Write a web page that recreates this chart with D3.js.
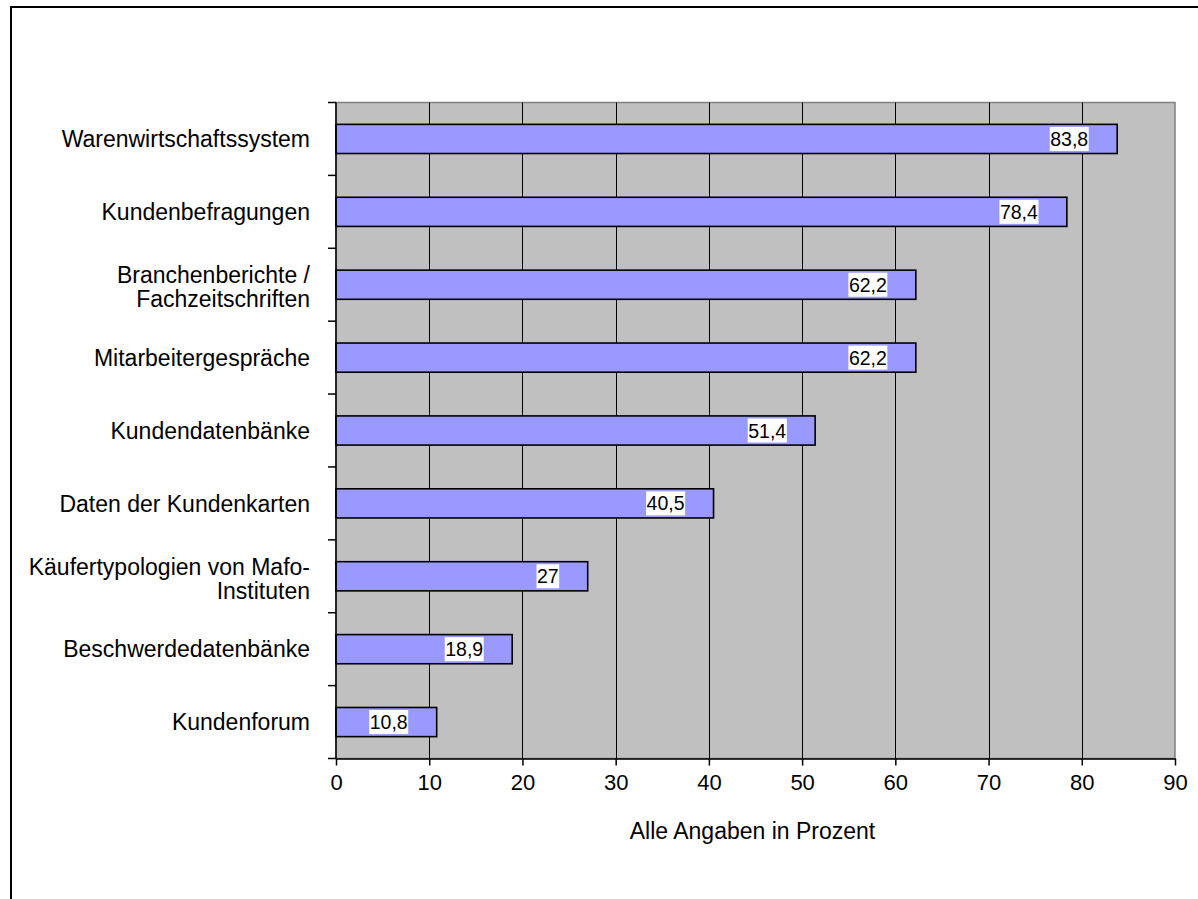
<!DOCTYPE html>
<html>
<head>
<meta charset="utf-8">
<script src="https://cdn.jsdelivr.net/npm/d3@7"></script>
<style>
  html, body { margin: 0; padding: 0; background: #fff; overflow: hidden; }
  svg { display: block; font-family: Arial, "Liberation Sans", sans-serif; }
</style>
</head>
<body>
<script>
// Categories (top to bottom), their shares in percent, and the axis ticks
const categories = [
  "Warenwirtschaftssystem",
  "Kundenbefragungen",
  "Branchenberichte /\nFachzeitschriften",
  "Mitarbeitergespräche",
  "Kundendatenbänke",
  "Daten der Kundenkarten",
  "Käufertypologien von Mafo-\nInstituten",
  "Beschwerdedatenbänke",
  "Kundenforum"
];
const values = [83.8, 78.4, 62.2, 62.2, 51.4, 40.5, 27, 18.9, 10.8];
const xTicks = [0, 10, 20, 30, 40, 50, 60, 70, 80, 90];
const axisTitle = "Alle Angaben in Prozent";

const W = 1198, H = 899;
const plot = { left: 336, top: 102.5, right: 1175, bottom: 758.5 };

const svg = d3.select("body").append("svg")
  .attr("width", W).attr("height", H);

// outer frame
svg.append("rect")
  .attr("x", 11).attr("y", 7)
  .attr("width", W + 20).attr("height", H + 20)
  .attr("fill", "#fff").attr("stroke", "#000").attr("stroke-width", 2);

const x = d3.scaleLinear().domain([0, 90]).range([plot.left, plot.right]);
const y = d3.scaleBand().domain(categories).range([plot.top, plot.bottom])
  .paddingInner(0.6).paddingOuter(0.3);
const yBands = d3.scaleBand().domain(categories).range([plot.top, plot.bottom]);

// plot background
svg.append("rect")
  .attr("x", plot.left).attr("y", plot.top)
  .attr("width", plot.right - plot.left).attr("height", plot.bottom - plot.top)
  .attr("fill", "#c0c0c0").attr("stroke", "#808080").attr("stroke-width", 1.5);

// vertical gridlines
svg.append("g").selectAll("line")
  .data(xTicks.filter(t => t > 0 && t < 90))
  .join("line")
  .attr("x1", d => Math.round(x(d)) + 0.5).attr("x2", d => Math.round(x(d)) + 0.5)
  .attr("y1", plot.top).attr("y2", plot.bottom)
  .attr("stroke", "#000").attr("stroke-width", 1);

// bars
svg.append("g").selectAll("rect")
  .data(values)
  .join("rect")
  .attr("x", x(0))
  .attr("y", (d, i) => y(categories[i]))
  .attr("width", d => x(d) - x(0))
  .attr("height", y.bandwidth())
  .attr("fill", "#9999ff")
  .attr("stroke", "#000").attr("stroke-width", 1.6);

// value labels on white boxes, near the inner end of each bar
const fmt = v => String(v).replace(".", ",");
const labels = svg.append("g").selectAll("g")
  .data(values)
  .join("g")
  .attr("transform", (d, i) =>
    `translate(${x(d) - 29},${y(categories[i]) + y.bandwidth() / 2})`);
labels.append("text")
  .attr("text-anchor", "end")
  .attr("dy", "0.36em")
  .attr("font-size", 19.5)
  .attr("fill", "#000")
  .text(fmt)
  .each(function () {
    const b = this.getBBox();
    d3.select(this.parentNode).insert("rect", "text")
      .attr("x", b.x - 0.5).attr("y", -12)
      .attr("width", b.width + 1).attr("height", 24)
      .attr("fill", "#fff");
  });

// left axis: line and tick marks at the band boundaries
const yAxis = svg.append("g");
yAxis.append("line")
  .attr("x1", plot.left).attr("x2", plot.left)
  .attr("y1", plot.top).attr("y2", plot.bottom)
  .attr("stroke", "#000").attr("stroke-width", 1.5);
const boundaries = categories.map(c => yBands(c)).concat([plot.bottom]);
yAxis.selectAll("line.tick")
  .data(boundaries)
  .join("line")
  .attr("class", "tick")
  .attr("x1", plot.left - 8).attr("x2", plot.left)
  .attr("y1", d => d).attr("y2", d => d)
  .attr("stroke", "#000").attr("stroke-width", 1.5);

// category labels, right aligned, wrapped lines
const labelX = 310;
const catLabels = yAxis.selectAll("text")
  .data(categories)
  .join("text")
  .attr("text-anchor", "end")
  .attr("font-size", 23)
  .attr("fill", "#000");
catLabels.each(function (d) {
  const lines = d.split("\n");
  const lh = 24;
  const cy = yBands(d) + yBands.bandwidth() / 2 + (lines.length > 1 ? 2 : 0);
  const t = d3.select(this);
  lines.forEach((ln, k) => {
    t.append("tspan")
      .attr("x", labelX)
      .attr("y", cy + (k - (lines.length - 1) / 2) * lh)
      .attr("dy", "0.36em")
      .text(ln);
  });
});

// bottom axis
const xAxis = svg.append("g")
  .attr("transform", `translate(0,${plot.bottom})`)
  .call(d3.axisBottom(x).tickValues(xTicks).tickSize(7).tickSizeOuter(0).tickPadding(9));
xAxis.select(".domain").attr("stroke", "#000").attr("stroke-width", 1.5);
xAxis.selectAll(".tick line").attr("stroke", "#000").attr("stroke-width", 1.5);
xAxis.selectAll(".tick text")
  .attr("font-size", 22)
  .attr("font-family", "Arial, 'Liberation Sans', sans-serif")
  .attr("fill", "#000");

// axis title
svg.append("text")
  .attr("x", (plot.left + plot.right) / 2 - 3)
  .attr("y", 831)
  .attr("dy", "0.36em")
  .attr("text-anchor", "middle")
  .attr("font-size", 23)
  .attr("fill", "#000")
  .text(axisTitle);
</script>
</body>
</html>
